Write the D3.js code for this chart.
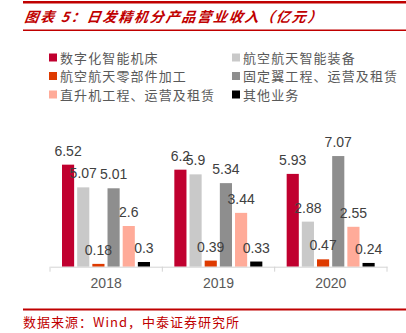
<!DOCTYPE html>
<html>
<head>
<meta charset="utf-8">
<script src="https://cdn.jsdelivr.net/npm/d3@7/dist/d3.min.js"></script>
<style>
  html, body { margin: 0; padding: 0; background: #fff; }
  svg { display: block; }
</style>
</head>
<body>
<svg id="chart" width="406" height="333"></svg>
<script>
// Revenue by product line, 100 million yuan
const years = ["2018", "2019", "2020"];
const seriesNames = ["数字化智能机床", "航空航天智能装备", "航空航天零部件加工", "固定翼工程、运营及租赁", "直升机工程、运营及租赁", "其他业务"];
const seriesColors = ["#C0002F", "#C9C9C9", "#DE3A00", "#8E8E8E", "#FFAB99", "#000000"];
const values2018 = [6.52, 5.07, 0.18, 5.01, 2.6, 0.3];
const values2019 = [6.2, 5.9, 0.39, 5.34, 3.44, 0.33];
const values2020 = [5.93, 2.88, 0.47, 7.07, 2.55, 0.24];
const yearValues = [values2018, values2019, values2020];

const svg = d3.select("#chart");
const red = "#C00000";

// header rules and title
svg.append("rect").attr("x", 23).attr("y", 1).attr("width", 383).attr("height", 2.5).attr("fill", red);
svg.append("rect").attr("x", 23).attr("y", 29.5).attr("width", 383).attr("height", 1.5).attr("fill", red);
svg.append("text")
  .attr("x", 24).attr("y", 22)
  .attr("fill", red)
  .attr("font-family", "'Noto Sans CJK SC', sans-serif")
  .attr("font-size", 14).attr("font-weight", "bold").attr("font-style", "italic")
  .attr("letter-spacing", 1.8)
  .attr("transform", "skewX(-8) translate(3,0)")
  .text("图表 5：日发精机分产品营业收入（亿元）");

// legend, two columns
const legendPos = [[49, 58], [232, 58], [49, 76.5], [232, 76.5], [49, 95], [232, 95]];
const legend = svg.append("g");
seriesNames.forEach((name, i) => {
  const [lx, ly] = legendPos[i];
  legend.append("rect").attr("x", lx).attr("y", ly - 4.5).attr("width", 8).attr("height", 8).attr("fill", seriesColors[i]);
  legend.append("text")
    .attr("x", lx + 11).attr("y", ly + 4.5)
    .attr("fill", "#595959")
    .attr("font-family", "'Noto Sans CJK SC', sans-serif")
    .attr("font-size", 13).attr("letter-spacing", 1.1)
    .text(name);
});

// scales
const x = d3.scaleBand().domain(years).range([50, 387]).paddingInner(0).paddingOuter(0);
const xInner = d3.scaleBand().domain(d3.range(seriesNames.length)).range([12, 100]).paddingInner(0.2);
const y = d3.scaleLinear().domain([0, 8]).range([266.7, 266.7 - 8 * 15.65]);

// bars and value labels
const groups = svg.append("g").selectAll("g")
  .data(years.map((yr, i) => ({ year: yr, vals: yearValues[i] })))
  .join("g")
  .attr("transform", d => `translate(${x(d.year)},0)`);

groups.selectAll("rect")
  .data(d => d.vals.map((v, i) => ({ v, i })))
  .join("rect")
  .attr("x", d => xInner(d.i))
  .attr("width", xInner.bandwidth())
  .attr("y", d => y(d.v))
  .attr("height", d => y(0) - y(d.v))
  .attr("fill", d => seriesColors[d.i]);

groups.selectAll("text.val")
  .data(d => d.vals.map((v, i) => ({ v, i })))
  .join("text")
  .attr("class", "val")
  .attr("x", d => xInner(d.i) + xInner.bandwidth() / 2)
  .attr("y", d => y(d.v) - 9)
  .attr("text-anchor", "middle")
  .attr("fill", "#404040")
  .attr("font-family", "'Liberation Sans', Arial, sans-serif")
  .attr("font-size", 14)
  .text(d => d.v);

// x axis
const axis = svg.append("g")
  .attr("transform", `translate(0,${y(0)})`)
  .call(d3.axisBottom(x).tickSize(0).tickPadding(11));
axis.select(".domain").attr("stroke", "#D4D4D4");
axis.selectAll(".tick text")
  .attr("fill", "#595959")
  .attr("font-family", "'Liberation Sans', Arial, sans-serif")
  .attr("font-size", 14);
// category boundary ticks
const bounds = years.map(yr => x(yr)).concat([x.range()[1]]);
axis.selectAll("line.bound")
  .data(bounds)
  .join("line")
  .attr("class", "bound")
  .attr("x1", d => d).attr("x2", d => d)
  .attr("y1", 0).attr("y2", 5)
  .attr("stroke", "#D4D4D4");

// footer rule and source
svg.append("rect").attr("x", 23).attr("y", 308.5).attr("width", 383).attr("height", 2).attr("fill", red);
svg.append("text")
  .attr("x", 23).attr("y", 327)
  .attr("fill", red)
  .attr("font-family", "'Noto Sans CJK SC', sans-serif")
  .attr("font-size", 13).attr("letter-spacing", 1)
  .text("数据来源：Wind，中泰证券研究所");
</script>
</body>
</html>
